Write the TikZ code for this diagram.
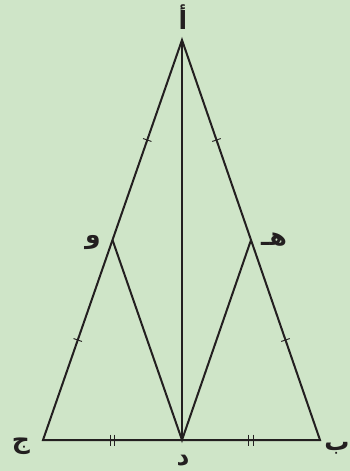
\documentclass[tikz,border=0pt]{standalone}
\usepackage{fontspec}
\usetikzlibrary{calc}
\newfontfamily\arabicfont[Script=Arabic]{DejaVu Sans Bold}
\TeXXeTstate=1
\definecolor{bg}{RGB}{207,229,200}
\definecolor{ink}{RGB}{35,31,32}
\begin{document}
\begin{tikzpicture}[x=1pt,y=-1pt,
  seg/.style={draw=ink,line width=2pt},
  tick/.style={draw=ink,line width=0.9pt},
  lbl/.style={text=ink,font=\arabicfont\fontsize{25}{28}\selectfont,inner sep=0pt}]
\fill[bg] (0,0) rectangle (350,471);
\useasboundingbox (0,0) rectangle (350,471);
\coordinate (A) at (182,40);
\coordinate (B) at (320,440);
\coordinate (C) at (43,440);
\coordinate (D) at (182,440);
\coordinate (W) at ($(A)!0.5!(C)$);
\coordinate (H) at ($(A)!0.5!(B)$);
\draw[seg,line join=miter] (A) -- (B) -- (C) -- cycle;
\draw[seg] (A) -- (D);
\draw[seg] (W) -- (D) -- (H);
% single ticks
\foreach \p/\q in {A/W,W/C,A/H,H/B}{
  \path ($(\p)!0.5!(\q)$) coordinate (m);
  \draw[tick] ($(m)!4.5pt!90:(\q)$) -- ($(m)!4.5pt!-90:(\q)$);
}
% double ticks
\foreach \p/\q in {C/D,D/B}{
  \path ($(\p)!0.5!(\q)$) coordinate (m);
  \draw[tick] ([xshift=-2.2pt]m) ++(0,-5.5) -- ++(0,11);
  \draw[tick] ([xshift=2.2pt]m) ++(0,-5.5) -- ++(0,11);
}
\node[lbl] (la) at (183,17) {\beginR أ\endR};
\node[lbl] (lb) at (337,448) {\beginR ب\endR};
\node[lbl] (lc) at (21,446) {\beginR ج\endR};
\node[lbl] (ld) at (183,461) {\beginR د\endR};
\node[lbl] (lw) at (93,243) {\beginR و\endR};
\node[lbl] (lh) at (274,240) {\beginR هـ\endR};
\end{tikzpicture}
\end{document}
